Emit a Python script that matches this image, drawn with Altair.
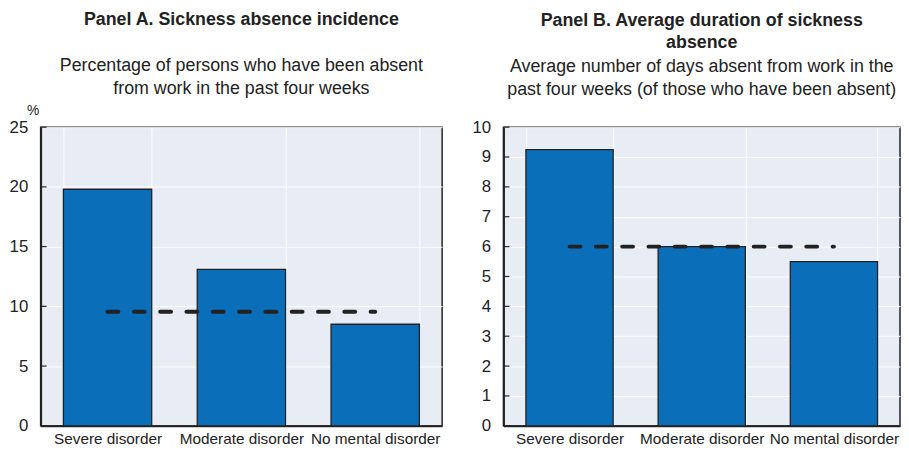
import altair as alt
import pandas as pd

categories = ["Severe disorder", "Moderate disorder", "No mental disorder"]
incidence = [19.8, 13.1, 8.5]
incidence_avg = 9.55
duration = [9.25, 6.0, 5.5]
duration_avg = 6.0
ticks_a = [0, 5, 10, 15, 20, 25]
ticks_b = [0, 1, 2, 3, 4, 5, 6, 7, 8, 9, 10]

FONT = "Liberation Sans, Arial, sans-serif"
BLUE = "#0A6EB8"
DARK = "#222222"


def panel(values, avg, ticks, title, subtitle, ytitle, pw, line_h, sub_pad, offset):
    df = pd.DataFrame({"category": categories, "value": values, "avg": [avg] * len(categories)})
    tdf = pd.DataFrame({"tick": ticks})
    xaxis = alt.Axis(
        title=None, labelAngle=0, ticks=False, tickBand="extent",
        grid=True, gridColor="white", gridWidth=1,
        domainColor=DARK, domainWidth=2, labelOverlap=False,
        labelFontSize=15.5, labelPadding=6, labelColor=DARK, labelFont=FONT,
    )
    xscale = alt.Scale(paddingInner=0.34, paddingOuter=0.17)
    axis_kw = dict(
        values=ticks, ticks=False, grid=True, gridColor="white", gridWidth=1,
        domainColor=DARK, domainWidth=2, labelOverlap=False,
        labelFontSize=17, labelPadding=13, labelColor=DARK, labelFont=FONT,
    )
    if ytitle:
        yaxis = alt.Axis(
            title=ytitle, titleAngle=0, titleFontSize=14, titleFontWeight="normal",
            titleFont=FONT, titleColor=DARK, titleX=-8, titleY=-10,
            titleAlign="center", titleBaseline="bottom", **axis_kw,
        )
    else:
        yaxis = alt.Axis(title=None, **axis_kw)
    yscale = alt.Scale(domain=[ticks[0], ticks[-1]], nice=False)
    bars = alt.Chart(df).mark_bar(color=BLUE, stroke=DARK, strokeWidth=1.3).encode(
        x=alt.X("category:N", sort=categories, scale=xscale, axis=xaxis),
        y=alt.Y("value:Q", scale=yscale, axis=yaxis),
    )
    line = alt.Chart(df).mark_line(
        color=DARK, strokeWidth=4, strokeDash=[11, 15.6], strokeCap="round"
    ).encode(
        x=alt.X("category:N", sort=categories, scale=xscale, axis=xaxis),
        y=alt.Y("avg:Q", scale=yscale, axis=yaxis),
    )
    tk = alt.Chart(tdf).mark_rule(color=DARK, strokeWidth=1.2).encode(
        y=alt.Y("tick:Q", scale=yscale, axis=yaxis), x=alt.value(0), x2=alt.value(6)
    )
    return alt.layer(bars, line, tk).properties(
        width=pw, height=302,
        title=alt.TitleParams(
            text=title, subtitle=subtitle, anchor="middle",
            font=FONT, fontSize=18, fontWeight="bold", color=DARK, lineHeight=line_h,
            subtitleFont=FONT, subtitleFontSize=18, subtitleColor=DARK,
            subtitleLineHeight=24, subtitlePadding=sub_pad, offset=offset,
        ),
    )


pa = panel(
    incidence, incidence_avg, ticks_a,
    "Panel A. Sickness absence incidence",
    ["Percentage of persons who have been absent", "from work in the past four weeks"],
    "%", 406, 23, 28, 5,
)
pb = panel(
    duration, duration_avg, ticks_b,
    ["Panel B. Average duration of sickness", "absence"],
    ["Average number of days absent from work in the", "past four weeks (of those who have been absent)"],
    None, 401, 22, 6, 19,
)

chart = alt.hconcat(pa, pb, spacing=28).properties(
    padding={"left": 0, "top": 0, "right": 0, "bottom": 0},
    background="white",
).configure_view(
    fill="#E8ECF5", stroke=DARK, strokeWidth=1.5
)

chart.save("out.html", embed_options={"renderer": "svg", "actions": False})
